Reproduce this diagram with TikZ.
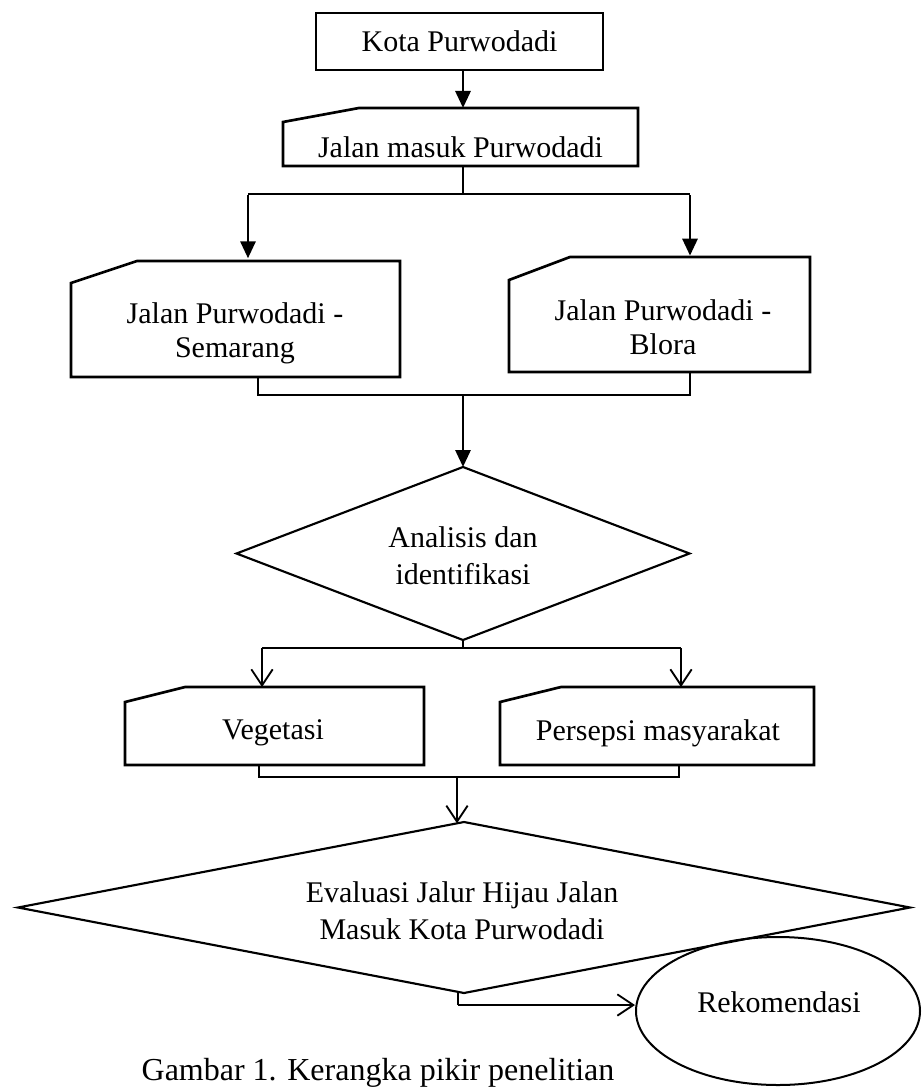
\documentclass[tikz,border=0pt]{standalone}
\usepackage{fontspec}
\setmainfont{Liberation Serif}
\usetikzlibrary{arrows.meta,shapes.geometric}
\tikzset{
  lbl/.style={font=\fontsize{22.5pt}{25.5pt}\selectfont, align=center, inner sep=0pt},
  lbltwo/.style={font=\fontsize{22.5pt}{27.75pt}\selectfont, align=center, inner sep=0pt},
  boxnode/.style={inner sep=0pt, outer sep=0pt},
  boxline/.style={line width=2pt, line join=miter},
  conn/.style={line width=1pt},
  farrow/.style={line width=2.2pt, -{Triangle[length=12.75pt,width=11.25pt]}},
  oarrow/.style={line width=1.4pt, -{Straight Barb[length=12pt,width=16pt,line width=1.4pt]}},
  dia/.style={diamond, draw, line width=1.6pt, inner sep=0pt, outer sep=0pt},
}
\newcommand{\cardoutline}[3]{\draw[boxline] ([yshift=-#3]#1.north west) -- ([xshift=#2]#1.north west) -- (#1.north east) -- (#1.south east) -- (#1.south west) -- cycle;}
\begin{document}
\begin{tikzpicture}[x=0.75pt,y=-0.75pt]
\useasboundingbox (0,0) rectangle (921,1087);
\coordinate (ax) at (463,0);

% Kota Purwodadi
\node[boxnode, draw, boxline, lbl, minimum width=215.25pt, minimum height=42.75pt] (kota) at (459.5,41.5) {Kota Purwodadi};

% Jalan masuk
\node[boxnode, minimum width=266.25pt, minimum height=43.5pt] (masuk) at (460.5,137) {};
\cardoutline{masuk}{57pt}{10.5pt}
\node[lbl] (masukT) at (460.5,147.5) {Jalan masuk Purwodadi};
\draw[farrow] (kota.south -| ax) -- (masuk.north -| ax);

% split 1
\coordinate (s1) at (463,194);
\coordinate (s1L) at (248,194);
\coordinate (s1R) at (690,194);

% Semarang / Blora
\node[boxnode, minimum width=246.75pt, minimum height=87pt] (sem) at (235.5,319) {};
\cardoutline{sem}{49.5pt}{16.5pt}
\node[lbl] (semT) at (235,333) {Jalan Purwodadi -\\Semarang};
\node[boxnode, minimum width=225.75pt, minimum height=86.25pt] (blo) at (659.5,314.5) {};
\cardoutline{blo}{45.75pt}{17.25pt}
\node[lbl] (bloT) at (663,327) {Jalan Purwodadi -\\Blora};

\draw[conn] (masuk.south -| ax) -- (s1);
\draw[conn] (s1L) -- (s1R);
\draw[farrow] ([yshift=-1pt]s1L) -- ([yshift=2pt]sem.north -| s1L);
\draw[farrow] ([yshift=-1pt]s1R) -- ([yshift=1pt]blo.north -| s1R);

% join 1
\coordinate (xL1) at (258,395);
\coordinate (xR1) at (690,395);
\coordinate (j1) at (463,396);
\draw[conn] (sem.south -| xL1) -- (xL1) -- (xR1) -- (blo.south -| xR1);

% Analisis diamond
\node[dia, minimum width=339.75pt, minimum height=129.75pt] (analisis) at (463,553.5) {};
\node[lbltwo] (analisisT) at (463,556) {Analisis dan\\identifikasi};
\draw[farrow] (j1) -- (analisis.north);

% split 2
\coordinate (s2) at (463,648);
\coordinate (s2L) at (262,648);
\coordinate (s2R) at (681,648);
\node[boxnode, minimum width=224.25pt, minimum height=58.5pt] (veg) at (274.5,726) {};
\cardoutline{veg}{45pt}{11.25pt}
\node[lbl] (vegT) at (273,733) {Vegetasi};
\node[boxnode, minimum width=235.5pt, minimum height=58.5pt] (per) at (657,726) {};
\cardoutline{per}{45.75pt}{11.25pt}
\node[lbl] (perT) at (658,733) {Persepsi masyarakat};
\draw[conn] (analisis.south) -- (s2);
\draw[conn] (s2L) -- (s2R);
\draw[oarrow] (s2L) -- (veg.north -| s2L);
\draw[oarrow] (s2R) -- (per.north -| s2R);

% join 2
\coordinate (xL2) at (259,777);
\coordinate (xR2) at (679,777);
\coordinate (j2) at (457,777);
\draw[conn] (veg.south -| xL2) -- (xL2) -- (xR2) -- (per.south -| xR2);

% Evaluasi diamond
\node[dia, minimum width=669pt, minimum height=128.25pt] (eval) at (464,907.5) {};
\node[lbltwo] (evalT) at (462,911) {Evaluasi Jalur Hijau Jalan\\Masuk Kota Purwodadi};
\draw[oarrow] (j2) -- ([yshift=-1pt]eval.north -| j2);

% Rekomendasi
\node[ellipse, draw, line width=1.5pt, inner sep=0pt, minimum width=213pt, minimum height=111pt] (rek) at (778,1011) {};
\node[lbl] (rekT) at (779,1002) {Rekomendasi};
\coordinate (r1) at (458,1005);
\draw[conn] (eval.south -| r1) -- (r1);
\draw[oarrow, line width=1.6pt] (r1) -- (rek.west |- r1);

% caption
\node[font=\fontsize{24pt}{28pt}\selectfont, inner sep=0pt] (cap) at (378,1072.5) {Gambar 1. Kerangka pikir penelitian};
\end{tikzpicture}
\end{document}
